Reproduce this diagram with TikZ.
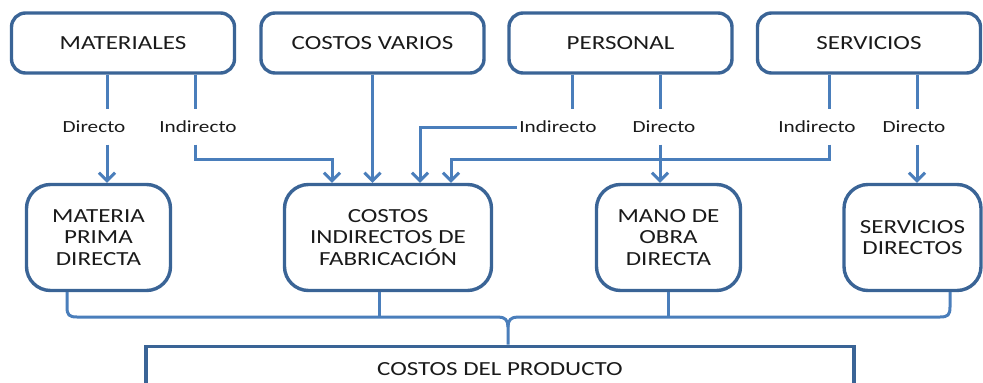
\documentclass[tikz,border=0pt]{standalone}
\usepackage{fontspec}
\setmainfont{Carlito}[FakeStretch=1.25]
\usetikzlibrary{arrows.meta,calc}
\definecolor{boxc}{HTML}{3A6496}
\definecolor{linec}{HTML}{4A7EBB}
\definecolor{txtc}{HTML}{1A1A1A}
\tikzset{
  topbox/.style={draw=boxc, line width=3.4pt, rounded corners=14pt, minimum width=223pt, minimum height=60pt, inner sep=0pt, text=txtc, font=\fontsize{20}{22}\selectfont},
  midbox/.style={draw=boxc, line width=3.4pt, rounded corners=24pt, minimum height=106pt, inner sep=0pt, align=center, text=txtc, font=\fontsize{20}{21.7}\selectfont},
  lbl/.style={inner xsep=2pt, inner ysep=0pt, minimum height=35pt, text=txtc, font=\fontsize{17}{19}\selectfont},
  conn/.style={draw=linec, line width=3pt},
  arr/.style={conn, -{Straight Barb[length=8pt,width=16pt,line width=3pt]}},
}
\begin{document}
\begin{tikzpicture}[x=1pt,y=-1pt]
\useasboundingbox (0,0) rectangle (983,383);
\clip (0,0) rectangle (983,383);
% top boxes
\node[topbox] (mat) at (123,43) {MATERIALES};
\node[topbox] (cv)  at (372.5,43) {COSTOS VARIOS};
\node[topbox] (per) at (620.5,43) {PERSONAL};
\node[topbox] (ser) at (869,43) {SERVICIOS};
% middle boxes
\node[midbox, minimum width=144pt] (mp)  at (98.5,237.5) {MATERIA\\PRIMA\\DIRECTA};
\node[midbox, minimum width=207pt] (cif) at (388,237.5) {COSTOS\\INDIRECTOS DE\\FABRICACIÓN};
\node[midbox, minimum width=144pt] (mo)  at (668.5,237.5) {MANO DE\\OBRA\\DIRECTA};
\node[midbox, minimum width=137pt] (sd)  at (912.5,237.5) {SERVICIOS\\DIRECTOS};
% bottom box
\node[draw=boxc, line width=3.6pt, anchor=north, minimum width=708pt, inner xsep=0pt,
      inner ysep=15.7pt, text height=13pt, text depth=30pt, text=txtc,
      font=\fontsize{20}{22}\selectfont] (prod) at (500,344.5) {COSTOS DEL PRODUCTO};
% labels
\node[lbl] (md) at (94,127) {Directo};
\node[lbl] (mi) at (198,127) {Indirecto};
\node[lbl] (pi) at (558,127) {Indirecto};
\node[lbl] (pd) at (664,127) {Directo};
\node[lbl] (si) at (817,127) {Indirecto};
\node[lbl] (sdl) at (914,127) {Directo};
% x positions of the connectors
\coordinate (xmd) at (107,0);
\coordinate (xmi) at (195,0);
\coordinate (xpi) at (572,0);
\coordinate (xpd) at (660,0);
\coordinate (xsi) at (829,0);
\coordinate (xsd) at (917,0);
\coordinate (h1) at (0,159);
\coordinate (a1) at (332,0);
\coordinate (a3) at (420,0);
\coordinate (a4) at (451,0);
% MATERIALES
\draw[conn] (xmd |- mat.south) -- (xmd |- md.north);
\draw[arr] (xmd |- md.south) -- (xmd |- mp.north);
\draw[conn] (xmi |- mat.south) -- (xmi |- mi.north);
\draw[arr] (xmi |- mi.south) -- (xmi |- h1) -- (a1 |- h1) -- (a1 |- cif.north);
% COSTOS VARIOS
\draw[arr] (cv.south) -- (cv.south |- cif.north);
% PERSONAL
\draw[conn] (xpi |- per.south) -- (xpi |- pi.north);
\draw[arr] (pi.west) -- (a3 |- pi.west) -- (a3 |- cif.north);
\draw[conn] (xpd |- per.south) -- (xpd |- pd.north);
\draw[arr] (xpd |- pd.south) -- (xpd |- mo.north);
% SERVICIOS
\draw[conn] (xsi |- ser.south) -- (xsi |- si.north);
\draw[arr] (xsi |- si.south) -- (xsi |- h1) -- (a4 |- h1) -- (a4 |- cif.north);
\draw[conn] (xsd |- ser.south) -- (xsd |- sdl.north);
\draw[arr] (xsd |- sdl.south) -- (xsd |- sd.north);
% bracket
\coordinate (bl) at (67,0);
\coordinate (br) at (950,0);
\coordinate (by) at (0,317);
\coordinate (bt) at (508,0);
\coordinate (xc) at (379,0);
\draw[conn] (bl |- mp.south) -- ($(bl |- by)+(0,-10)$) .. controls ($(bl |- by)+(0,-2)$) and ($(bl |- by)+(2,0)$) .. ($(bl |- by)+(10,0)$)
  -- ($(bt |- by)+(-10,0)$) .. controls ($(bt |- by)+(-3,0)$) and ($(bt |- by)+(0,3)$) .. ($(bt |- by)+(0,10)$) -- (bt |- prod.north);
\draw[conn] ($(bt |- by)+(0,10)$) .. controls ($(bt |- by)+(0,3)$) and ($(bt |- by)+(3,0)$) .. ($(bt |- by)+(10,0)$)
  -- ($(br |- by)+(-10,0)$) .. controls ($(br |- by)+(-2,0)$) and ($(br |- by)+(0,-2)$) .. ($(br |- by)+(0,-10)$) -- (br |- sd.south);
\draw[conn] (xc |- cif.south) -- (xc |- by);
\draw[conn] (mo.south) -- (mo.south |- by);
\end{tikzpicture}
\end{document}
